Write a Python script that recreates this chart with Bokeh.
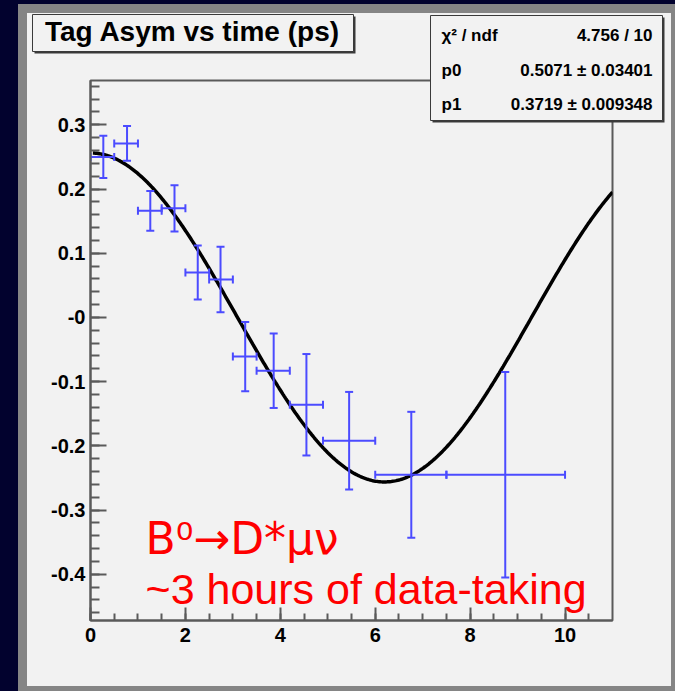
import numpy as np
from bokeh.plotting import figure
from bokeh.layouts import column
from bokeh.models import ColumnDataSource, Whisker, TeeHead, FixedTicker, Range1d
from bokeh.core.properties import value
from bokeh.embed import file_html
from bokeh.resources import INLINE

# Tagged asymmetry per proper-time bin (time in ps)
t_mean = [0.27, 0.77, 1.26, 1.77, 2.26, 2.74, 3.26, 3.86, 4.55, 5.45, 6.76, 8.74]
t_low = [0.0, 0.5, 1.0, 1.5, 2.0, 2.5, 3.0, 3.5, 4.2, 4.9, 6.0, 7.5]
t_high = [0.5, 1.0, 1.5, 2.0, 2.5, 3.0, 3.5, 4.2, 4.9, 6.0, 7.5, 10.0]
asym = [0.250, 0.271, 0.166, 0.170, 0.070, 0.059, -0.061, -0.083, -0.136, -0.192, -0.245, -0.245]
asym_err = [0.033, 0.027, 0.031, 0.036, 0.042, 0.051, 0.054, 0.058, 0.079, 0.076, 0.098, 0.160]

# Fit result: A(t) = (1 - 2*p1) * cos(p0 * t)
p0, p0_err = 0.5071, 0.03401
p1, p1_err = 0.3719, 0.009348
chi2, ndf = 4.756, 10

# Axis ticks
x_ticks = [0, 2, 4, 6, 8, 10]
x_minor = [0.5 * i for i in range(0, 22)]
y_ticks = [-0.4, -0.3, -0.2, -0.1, 0.0, 0.1, 0.2, 0.3]
y_tick_labels = ["-0.4", "-0.3", "-0.2", "-0.1", "-0", "0.1", "0.2", "0.3"]
y_minor = [round(-0.46 + 0.02 * i, 2) for i in range(0, 42)]

NAVY = "#02022e"
PANEL = "#f2f2f2"
BEVEL = "#858585"
AXIS = "#5a5a5a"
BLUE = "#4b4bff"
RED = "#ff0000"
BOXLINE = "#3a3a3a"

PANEL_W, PANEL_H = 644, 673
LIFT = 0.44  # baseline correction for text glyphs, in em

# ---- main plot -------------------------------------------------------------
p = figure(width=PANEL_W, height=PANEL_H, output_backend="svg", toolbar_location=None,
           x_range=Range1d(0, 11), y_range=Range1d(-0.472, 0.369),
           min_border_left=63, min_border_right=59, min_border_top=67,
           min_border_bottom=66)
p.frame_align = False
p.border_fill_color = PANEL
p.background_fill_color = PANEL
p.outline_line_color = AXIS
p.outline_line_width = 2
p.xgrid.visible = False
p.ygrid.visible = False

for ax in (p.xaxis[0], p.yaxis[0]):
    ax.axis_line_color = AXIS
    ax.axis_line_width = 2
    ax.major_tick_line_color = AXIS
    ax.minor_tick_line_color = AXIS
    ax.major_tick_line_width = 2
    ax.minor_tick_line_width = 2
    ax.major_tick_out = 0
    ax.minor_tick_out = 0
    ax.major_label_text_font = "Liberation Sans"
    ax.major_label_text_font_style = "bold"
    ax.major_label_text_font_size = "20px"
    ax.major_label_text_color = "#000000"

p.xaxis.ticker = FixedTicker(ticks=x_ticks, minor_ticks=x_minor)
p.xaxis.major_tick_in = 13
p.xaxis.minor_tick_in = 7
p.xaxis.major_label_standoff = 7

p.yaxis.ticker = FixedTicker(ticks=y_ticks, minor_ticks=y_minor)
p.yaxis.major_label_overrides = {v: s for v, s in zip(y_ticks, y_tick_labels)}
p.yaxis.major_tick_in = 16
p.yaxis.minor_tick_in = 9
p.yaxis.major_label_standoff = 5

# data points with time-bin and asymmetry errors
src = ColumnDataSource(dict(
    t=t_mean, a=asym, lo=t_low, hi=t_high,
    alo=[a - e for a, e in zip(asym, asym_err)],
    ahi=[a + e for a, e in zip(asym, asym_err)],
))
for base, lower, upper, dim in (("a", "lo", "hi", "width"), ("t", "alo", "ahi", "height")):
    p.add_layout(Whisker(source=src, base=base, lower=lower, upper=upper, dimension=dim,
                         line_color=BLUE, line_width=2,
                         lower_head=TeeHead(size=8, line_color=BLUE, line_width=2),
                         upper_head=TeeHead(size=8, line_color=BLUE, line_width=2),
                         level="glyph"))

# fitted oscillation
tt = np.linspace(0.05, 11.0, 400)
p.line(tt, (1 - 2 * p1) * np.cos(p0 * tt), line_color="black", line_width=3.5)

# decay channel note
p.text(x=[1.16], y=[-0.344], text=["B\u2070\u2192D*\u03bc\u03bd"],
       text_font=value("DejaVu Sans"), text_font_size="44px",
       text_color=RED, text_align="left", text_baseline="alphabetic")
p.text(x=[1.16], y=[-0.4226], text=["~3 hours of data-taking"],
       text_font=value("Liberation Sans"), text_font_size="43px",
       text_color=RED, text_align="left", text_baseline="alphabetic")

# ---- title and fit-statistics boxes (drawn on a transparent layer on top) ----
OV_H = 112
ov = figure(width=PANEL_W, height=OV_H, output_backend="svg", toolbar_location=None,
            x_range=Range1d(0, PANEL_W), y_range=Range1d(OV_H, 0),
            x_axis_type=None, y_axis_type=None, min_border=0)
ov.frame_align = False
ov.border_fill_color = None
ov.background_fill_color = None
ov.outline_line_color = None
ov.xgrid.visible = False
ov.ygrid.visible = False
ov.margin = (-PANEL_H, 0, PANEL_H - OV_H, 0)

# title box with its shadow
ov.quad(left=[7], right=[328], top=[3], bottom=[40], fill_color=BOXLINE, line_color=None)
ov.quad(left=[5], right=[326], top=[1], bottom=[38], fill_color=PANEL,
        line_color=BOXLINE, line_width=1)
ov.text(x=[165], y=[30 - LIFT * 28], text=["Tag Asym vs time (ps)"],
        text_font=value("Liberation Sans"), text_font_style="bold",
        text_font_size="28px", text_align="center", text_baseline="alphabetic",
        text_color="black")

# fit statistics box with its shadow
ov.quad(left=[405], right=[637], top=[4], bottom=[109], fill_color=BOXLINE, line_color=None)
ov.quad(left=[403], right=[635], top=[2], bottom=[107], fill_color=PANEL,
        line_color=BOXLINE, line_width=1)
stat_names = ["\u03c7\u00b2 / ndf", "p0", "p1"]
stat_values = [f"{chi2:.3f} / {ndf}",
               f"{p0:.4f} \u00b1 {p0_err:.5f}",
               f"{p1:.4f} \u00b1 {p1_err:.6f}"]
stat_rows = [r - LIFT * 17 for r in (29, 64, 98)]
ov.text(x=[414] * 3, y=stat_rows, text=stat_names,
        text_font=value("Liberation Sans"), text_font_style="bold",
        text_font_size="17px", text_align="left", text_baseline="alphabetic",
        text_color="black")
ov.text(x=[625] * 3, y=stat_rows, text=stat_values,
        text_font=value("Liberation Sans"), text_font_style="bold",
        text_font_size="17px", text_align="right", text_baseline="alphabetic",
        text_color="black")

# ---- canvas: navy surround, grey bevel, light panel --------------------------
panel = column(p, ov, spacing=0, styles={"background-color": PANEL})
bevel = column(panel, styles={"background-color": BEVEL, "padding": "9px 4px 5px 9px"})
page = column(bevel, styles={"background-color": NAVY, "padding": "4px 0px 0px 18px"})

open("out.html", "w").write(file_html(page, INLINE))
